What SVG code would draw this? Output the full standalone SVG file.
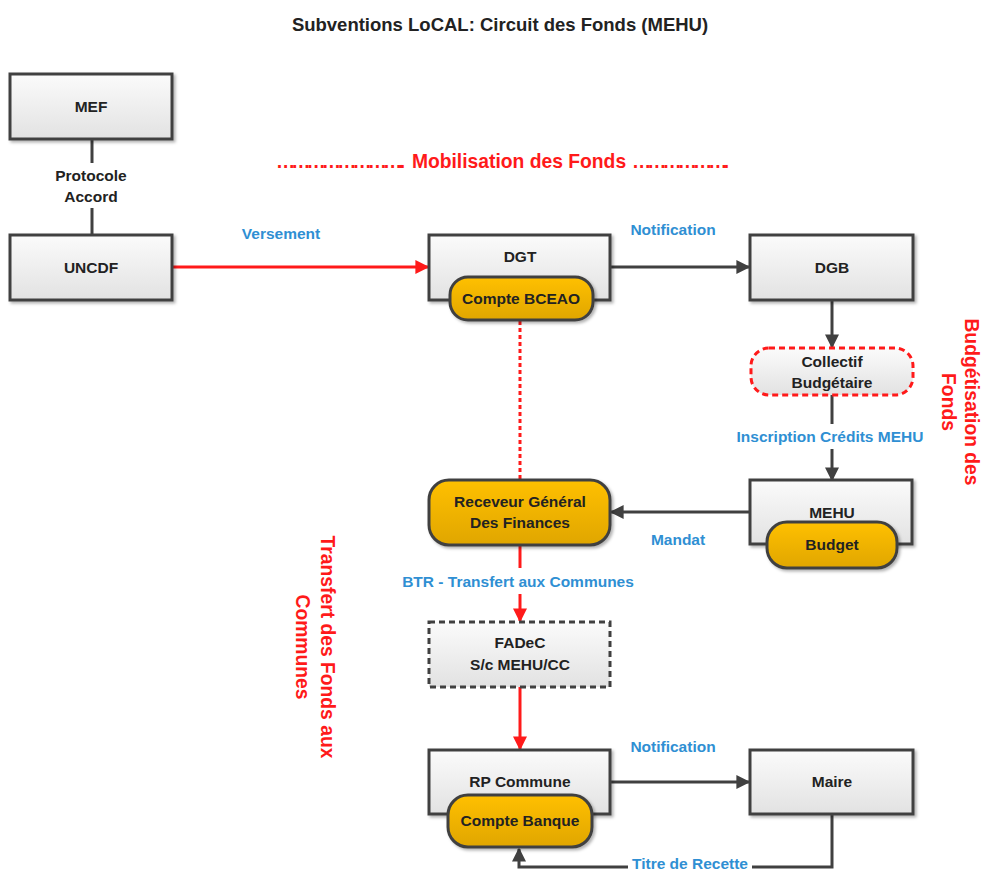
<svg xmlns="http://www.w3.org/2000/svg" width="983" height="872" viewBox="0 0 983 872">
<style>
.box{fill:url(#gBox);stroke:#404040;stroke-width:3;filter:url(#sh)}
.pill{fill:url(#gGold);stroke:#404040;stroke-width:3;filter:url(#sh)}
.t{font-family:"Liberation Sans",Arial,sans-serif;font-weight:bold;font-size:15.5px;fill:#222;text-anchor:middle}
.lb{font-family:"Liberation Sans",Arial,sans-serif;font-weight:bold;font-size:15.5px;fill:#2f8fd3;text-anchor:middle}
.red{font-family:"Liberation Sans",Arial,sans-serif;font-weight:bold;font-size:19.3px;fill:#ff1a1a;text-anchor:middle}
.gl{stroke:#404040;stroke-width:3;fill:none}
.rl{stroke:#ff1a1a;stroke-width:3;fill:none}
</style>
<defs>
<linearGradient id="gBox" x1="0" y1="0" x2="0" y2="1"><stop offset="0" stop-color="#fbfbfb"/><stop offset="1" stop-color="#e2e2e2"/></linearGradient>
<linearGradient id="gGold" x1="0" y1="0" x2="0" y2="1"><stop offset="0" stop-color="#ffc000"/><stop offset="1" stop-color="#e0a600"/></linearGradient>
<filter id="sh" x="-10%" y="-10%" width="130%" height="140%"><feDropShadow dx="2" dy="2" stdDeviation="1.5" flood-color="#000" flood-opacity="0.3"/></filter>
<marker id="ag" viewBox="0 0 10 10" refX="9" refY="5" markerWidth="15" markerHeight="14" markerUnits="userSpaceOnUse" orient="auto"><path d="M0,0 L10,5 L0,10 z" fill="#404040"/></marker>
<marker id="ar" viewBox="0 0 10 10" refX="9" refY="5" markerWidth="15" markerHeight="14" markerUnits="userSpaceOnUse" orient="auto"><path d="M0,0 L10,5 L0,10 z" fill="#ff1a1a"/></marker>
</defs>
<rect width="983" height="872" fill="#fff"/>
<text class="t" x="500" y="31" style="font-size:18.5px">Subventions LoCAL: Circuit des Fonds (MEHU)</text>
<text class="red" x="276" y="168" text-anchor="start" textLength="129" lengthAdjust="spacing" style="text-anchor:start">……………………..</text>
<text class="red" x="519" y="168">Mobilisation des Fonds</text>
<text class="red" x="632" y="168" textLength="97" lengthAdjust="spacing" style="text-anchor:start">……………….</text>
<g id="connectors">
<path class="gl" d="M92,140 V163"/>
<path class="gl" d="M92,208 V235"/>
<path class="rl" d="M172,267 H428" marker-end="url(#ar)"/>
<path class="gl" d="M610,267 H749" marker-end="url(#ag)"/>
<path class="gl" d="M832,300 V347" marker-end="url(#ag)"/>
<path class="gl" d="M832,395 V424"/>
<path class="gl" d="M832,449 V480" marker-end="url(#ag)"/>
<path class="gl" d="M750,512 H611" marker-end="url(#ag)"/>
<path class="rl" d="M520,321 V480" stroke-dasharray="4,3"/>
<path class="rl" d="M520,545 V568"/>
<path class="rl" d="M520,594 V621" marker-end="url(#ar)"/>
<path class="rl" d="M520,687 V749" marker-end="url(#ar)"/>
<path class="gl" d="M610,782 H749" marker-end="url(#ag)"/>
<path class="gl" d="M832,815 V867 H519 V849" marker-end="url(#ag)"/>
<rect x="628" y="857" width="124" height="15" fill="#fff"/>
</g>
<g id="label-protocole"><text class="t" x="91" y="181">Protocole</text><text class="t" x="91" y="202">Accord</text></g>
<g id="label-versement"><text class="lb" x="281" y="239">Versement</text></g>
<g id="label-notif1"><text class="lb" x="673" y="235">Notification</text></g>
<g id="label-inscription"><text class="lb" x="830" y="442">Inscription Crédits MEHU</text></g>
<g id="label-mandat"><text class="lb" x="678" y="545">Mandat</text></g>
<g id="label-btr"><text class="lb" x="518" y="587">BTR - Transfert aux Communes</text></g>
<g id="label-notif2"><text class="lb" x="673" y="752">Notification</text></g>
<g id="label-titre"><text class="lb" x="690" y="869">Titre de Recette</text></g>
<g id="MEF"><rect class="box" x="10" y="74" width="162" height="65"/><text class="t" x="91" y="112">MEF</text></g>
<g id="UNCDF"><rect class="box" x="10" y="235" width="162" height="65"/><text class="t" x="91" y="273">UNCDF</text></g>
<g id="DGT"><rect class="box" x="429" y="235" width="181" height="65"/><text class="t" x="520" y="262">DGT</text>
<rect class="pill" x="450" y="277" width="143" height="43" rx="18"/><text class="t" x="521" y="304">Compte BCEAO</text></g>
<g id="DGB"><rect class="box" x="750" y="235" width="163" height="65"/><text class="t" x="832" y="273">DGB</text></g>
<g id="Collectif"><rect x="751" y="348" width="162" height="47" rx="18" fill="url(#gBox)" stroke="#ff1a1a" stroke-width="3" stroke-dasharray="6,4"/><text class="t" x="832" y="367">Collectif</text><text class="t" x="832" y="388">Budgétaire</text></g>
<g id="MEHU"><rect class="box" x="750" y="480" width="162" height="64"/><text class="t" x="832" y="518">MEHU</text>
<rect class="pill" x="767" y="522" width="130" height="46" rx="20"/><text class="t" x="832" y="550">Budget</text></g>
<g id="RGF"><rect class="pill" x="429" y="480" width="181" height="65" rx="20"/><text class="t" x="520" y="507">Receveur Général</text><text class="t" x="520" y="528">Des Finances</text></g>
<g id="FADeC"><rect x="429" y="622" width="181" height="65" fill="url(#gBox)" stroke="#404040" stroke-width="3" stroke-dasharray="6,4"/><text class="t" x="520" y="648">FADeC</text><text class="t" x="520" y="670">S/c MEHU/CC</text></g>
<g id="RP"><rect class="box" x="429" y="750" width="181" height="64"/><text class="t" x="520" y="787">RP Commune</text>
<rect class="pill" x="448" y="795" width="144" height="52" rx="20"/><text class="t" x="520" y="826">Compte Banque</text></g>
<g id="Maire"><rect class="box" x="750" y="750" width="163" height="64"/><text class="t" x="832" y="787">Maire</text></g>
<g id="side-budget"><text class="red" transform="translate(965,402) rotate(90)">Budgétisation des</text><text class="red" transform="translate(942,402) rotate(90)">Fonds</text></g>
<g id="side-transfert"><text class="red" transform="translate(321,647) rotate(90)">Transfert des Fonds aux</text><text class="red" transform="translate(296,647) rotate(90)">Communes</text></g>
</svg>
